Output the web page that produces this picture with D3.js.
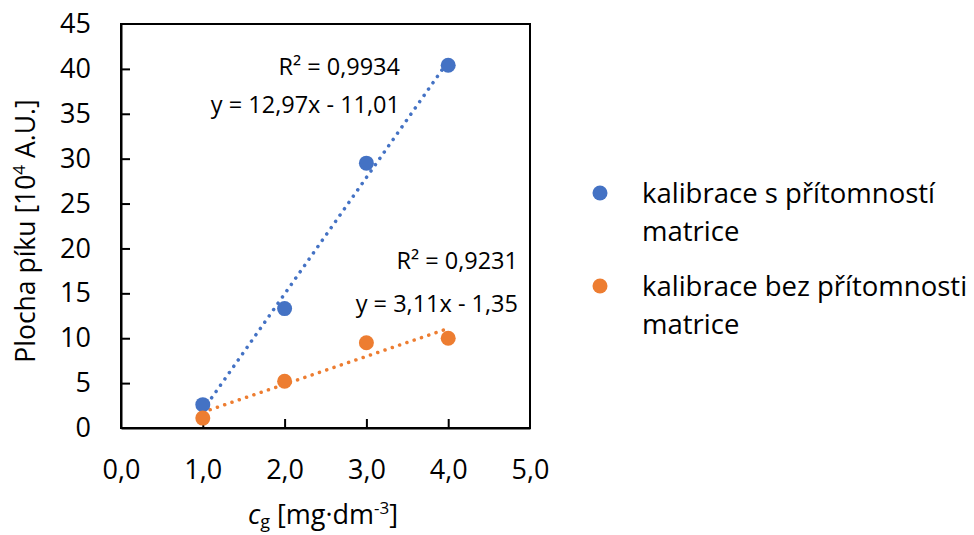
<!DOCTYPE html>
<html><head><meta charset="utf-8">
<script src="https://cdn.jsdelivr.net/npm/d3@7"></script>
<style>body{margin:0;background:#fff}svg{display:block}text{font-family:"Open Sans",sans-serif;fill:#000}</style>
</head><body>
<svg id="c" width="974" height="535"></svg>
<script>
const xValues = [1, 2, 3, 4];
const seriesNames = ["kalibrace s přítomností|matrice", "kalibrace bez přítomnosti|matrice"];
const seriesValues = [
  [2.6, 13.3, 29.5, 40.4],
  [1.1, 5.2, 9.5, 10.0]
];
const slopes = [12.97, 3.11];
const intercepts = [-11.01, -1.35];
const r2Labels = ["R² = 0,9934", "R² = 0,9231"];
const eqLabels = ["y = 12,97x - 11,01", "y = 3,11x - 1,35"];
const colors = ["#4472C4", "#ED7D31"];
const xTicks = [0, 1, 2, 3, 4, 5];
const yTicks = [0, 5, 10, 15, 20, 25, 30, 35, 40, 45];

const svg = d3.select("#c");
const L = 121, R = 530, T = 24, B = 428;
const x = d3.scaleLinear().domain([0, 5]).range([L, R]);
const y = d3.scaleLinear().domain([0, 45]).range([B, T]);
const fmt = d => d.toFixed(1).replace(".", ",");

// frame
svg.append("rect").attr("x", L).attr("y", T).attr("width", R - L).attr("height", B - T)
  .attr("fill", "none").attr("stroke", "#000").attr("stroke-width", 2);

const xAxis = svg.append("g").attr("transform", `translate(0,${B})`)
  .call(d3.axisBottom(x).tickValues(xTicks).tickFormat(fmt).tickSizeInner(-9).tickSizeOuter(0).tickPadding(32));
const yAxis = svg.append("g").attr("transform", `translate(${L},0)`)
  .call(d3.axisLeft(y).tickValues(yTicks).tickSizeInner(-9).tickSizeOuter(0).tickPadding(30));
[xAxis, yAxis].forEach(g => {
  g.select(".domain").attr("stroke", "#000").attr("stroke-width", 2);
  g.selectAll(".tick line").attr("stroke", "#000").attr("stroke-width", 2);
  g.selectAll(".tick text").style("font-size", "27px").attr("fill", "#000").style("font-family", '"Open Sans",sans-serif');
});
xAxis.selectAll(".tick text").attr("dy", "0.71em");
xAxis.selectAll(".tick").filter(d => d === 0 || d === 5).select("line").remove();
yAxis.selectAll(".tick").filter(d => d === 0 || d === 45).select("line").remove();

// trendlines
seriesValues.forEach((vals, i) => {
  const x0 = d3.min(xValues), x1 = d3.max(xValues);
  svg.append("line")
    .attr("x1", x(x0)).attr("y1", y(slopes[i] * x0 + intercepts[i]))
    .attr("x2", x(x1)).attr("y2", y(slopes[i] * x1 + intercepts[i]))
    .attr("stroke", colors[i]).attr("stroke-width", 3.5)
    .attr("stroke-dasharray", "0.1 7.6").attr("stroke-linecap", "round");
});
// points
seriesValues.forEach((vals, i) => {
  svg.append("g").selectAll("circle").data(vals).join("circle")
    .attr("cx", (d, j) => x(xValues[j])).attr("cy", d => y(d))
    .attr("r", 7.5).attr("fill", colors[i]);
});

// annotations
const ann = [
  {r2: [400, 75], eq: [400, 113]},
  {r2: [518, 269], eq: [518, 312]}
];
ann.forEach((a, i) => {
  svg.append("text").attr("x", a.r2[0]).attr("y", a.r2[1]).attr("text-anchor", "end")
    .style("font-size", "23.5px").text(r2Labels[i]);
  svg.append("text").attr("x", a.eq[0]).attr("y", a.eq[1]).attr("text-anchor", "end")
    .style("font-size", "23.5px").text(eqLabels[i]);
});

// axis titles
const yt = svg.append("text").attr("transform", "translate(35,231) rotate(-90)")
  .attr("text-anchor", "middle").style("font-size", "26.5px");
yt.append("tspan").text("Plocha píku [10");
yt.append("tspan").attr("dy", -10).style("font-size", "17px").text("4");
yt.append("tspan").attr("dy", 10).text(" A.U.]");

const xt = svg.append("text").attr("x", 323).attr("y", 524).attr("text-anchor", "middle").style("font-size", "27px");
xt.append("tspan").style("font-style", "italic").text("c");
xt.append("tspan").attr("dy", 4).style("font-size", "18px").text("g");
xt.append("tspan").attr("dy", -4).text(" [mg·dm");
xt.append("tspan").attr("dy", -10).style("font-size", "17px").text("-3");
xt.append("tspan").attr("dy", 10).text("]");

// legend
const legY = [193, 286];
seriesNames.forEach((n, i) => {
  svg.append("circle").attr("cx", 600).attr("cy", legY[i]).attr("r", 7.5).attr("fill", colors[i]);
  n.split("|").forEach((line, k) => {
    svg.append("text").attr("x", 642).attr("y", legY[i] + k * 38 + 10)
      .style("font-size", "27.5px").text(line);
  });
});
</script>
</body></html>
